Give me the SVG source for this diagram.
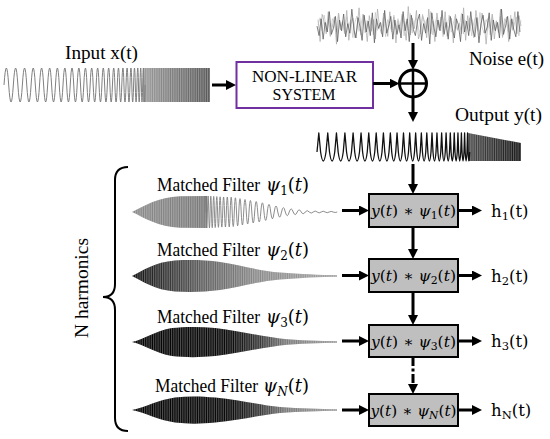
<svg xmlns="http://www.w3.org/2000/svg" width="550" height="439" viewBox="0 0 550 439">
<defs>
<style>
.lbl{font-family:"Liberation Serif","Times New Roman",serif;font-size:18px;fill:#000}
.nl{font-family:"Liberation Serif","Times New Roman",serif;font-size:16px;fill:#000}
.m{font-family:"DejaVu Serif",serif;font-style:normal}
.i{font-family:"DejaVu Serif",serif;font-style:italic}
.ps{font-family:"DejaVu Serif",serif;font-size:18px;fill:#000}
.bt{font-family:"DejaVu Serif",serif;font-size:15px;fill:#000}
.hl{font-family:"DejaVu Serif",serif;font-size:16.5px;fill:#000}
.conn{stroke:#000;stroke-width:3;fill:none;marker-end:url(#ah)}
.box{fill:#bfbfbf;stroke:#000;stroke-width:2}
.wave{fill:none;stroke-linejoin:round}
.tail{stroke:#8a8a8a;stroke-width:0.8}
</style>
<marker id="ah" viewBox="0 0 10 10" refX="3" refY="5" markerWidth="10" markerHeight="10" markerUnits="userSpaceOnUse" orient="auto"><path d="M0,0L10,5L0,10z" fill="#000"/></marker>
<pattern id="st" width="1.8" height="8" patternUnits="userSpaceOnUse"><rect width="0.7" height="8" fill="#fff" fill-opacity="0.4"/></pattern>
<linearGradient id="gIn" x1="0" x2="1"><stop offset="0" stop-color="#9a9a9a"/><stop offset="1" stop-color="#555"/></linearGradient>
<linearGradient id="gOut" x1="0" x2="1"><stop offset="0" stop-color="#4a4a4a"/><stop offset="1" stop-color="#111"/></linearGradient>
<linearGradient id="g1" x1="0" x2="1"><stop offset="0" stop-color="#8a8a8a"/><stop offset="1" stop-color="#767676"/></linearGradient>
<linearGradient id="g2" x1="0" x2="1"><stop offset="0" stop-color="#0d0d0d"/><stop offset="0.2" stop-color="#3a3a3a"/><stop offset="0.35" stop-color="#5e5e5e"/><stop offset="0.6" stop-color="#888"/><stop offset="1" stop-color="#a0a0a0"/></linearGradient>
<linearGradient id="g3" x1="0" x2="1"><stop offset="0" stop-color="#000"/><stop offset="0.48" stop-color="#060606"/><stop offset="0.62" stop-color="#333"/><stop offset="0.75" stop-color="#777"/><stop offset="1" stop-color="#999"/></linearGradient>
<polyline id="nz" fill="none" vector-effect="non-scaling-stroke" points="0,0 1,8 2,-6 3,11 4,-3 5,5 6,-12 7,7 8,2 9,-8 10,13 11,-5 12,4 13,-10 14,9 15,-2 16,6 17,-14 18,3 19,10 20,-7 21,1 22,12 23,-9 24,5 25,-4 26,8 27,-11 28,14 29,-6 30,2 31,-3 32,9 33,-13 34,6 35,0 36,-8 37,11 38,-5 39,7 40,-1 41,10 42,-12 43,4 44,-6 45,13 46,-9 47,3 48,8 49,-4 50,-10 51,12 52,-2 53,6 54,-7 55,15 56,-11 57,1 58,9 59,-5 60,4 61,-13 62,7 63,-3 64,11 65,-8 66,2 67,10 68,-6 69,-1 70,13 71,-10 72,5 73,-4 74,8 75,-12 76,3 77,9 78,-7 79,14 80,-2 81,-9 82,6 83,1 84,-11 85,12 86,-5 87,4 88,-3 89,10 90,-14 91,7 92,0 93,-8 94,11 95,-6 96,3 97,9 98,-12 99,5"/>
</defs>
<rect width="550" height="439" fill="#fff"/>

<g id="input">
<path d="M143,68H210V102H143Z" fill="url(#gIn)"/>
<path d="M143,68H210V102H143Z" fill="url(#st)"/>
<path class="wave" stroke="#808080" stroke-width="1" d="M4,85q2.35,-34 4.7,0t4.63,0t4.55,0t4.48,0t4.4,0t4.33,0t4.25,0t4.18,0t4.1,0t4.03,0t3.95,0t3.88,0t3.8,0t3.73,0t3.65,0t3.58,0t3.5,0t3.43,0t3.35,0t3.28,0t3.2,0t3.13,0t3.05,0t2.98,0t2.9,0t2.83,0t2.75,0t2.68,0t2.6,0t2.53,0t2.45,0t2.38,0t2.3,0t2.23,0t2.15,0t2.08,0t2,0t1.93,0t1.85,0t1.78,0t1.7,0t1.63,0t1.55,0t1.48,0t1.4,0t1.33,0t1.25,0t1.18,0"/>
<text class="lbl" x="65" y="59" textLength="73" lengthAdjust="spacingAndGlyphs">Input x(t)</text>
</g>

<g id="nonlinear-system">
<rect x="236.5" y="62" width="136.5" height="46" fill="#fff" stroke="#7030a0" stroke-width="2"/>
<text class="nl" x="304.5" y="82" text-anchor="middle" textLength="105" lengthAdjust="spacingAndGlyphs">NON-LINEAR</text>
<text class="nl" x="304" y="100" text-anchor="middle" textLength="63" lengthAdjust="spacingAndGlyphs">SYSTEM</text>
</g>

<g id="noise">
<use href="#nz" transform="translate(521,26) scale(-2.05,-1.3)" stroke="#a8a8a8" stroke-width="0.7"/>
<use href="#nz" transform="translate(318,25) scale(2.05,-0.9)" stroke="#bbb" stroke-width="0.6"/>
<use href="#nz" transform="translate(317,26) scale(2.05,1.2)" stroke="#5a5a5a" stroke-width="0.75"/>
<text class="lbl" x="469" y="65" textLength="75" lengthAdjust="spacingAndGlyphs">Noise e(t)</text>
</g>

<g id="sum">
<circle cx="413" cy="83.5" r="13.5" fill="#fff" stroke="#000" stroke-width="3"/>
<path d="M399.5,83.5H426.5M413,70V97" stroke="#000" stroke-width="2.5"/>
</g>

<g id="output">
<path d="M468,133L521,143V161H468Z" fill="url(#gOut)"/>
<path d="M468,133L521,143V161H468Z" fill="url(#st)"/>
<path class="wave" stroke="#111" stroke-width="1.3" d="M317,152l1.8,-19l1.8,19q2.7,18 5.4,0l1.75,-19l1.75,19q2.63,18 5.25,0l1.7,-19l1.7,19q2.55,18 5.1,0l1.65,-19l1.65,19q2.48,18 4.95,0l1.6,-19l1.6,19q2.4,18 4.8,0l1.55,-19l1.55,19q2.33,18 4.65,0l1.5,-19l1.5,19q2.25,18 4.5,0l1.45,-19l1.45,19q2.18,18 4.35,0l1.4,-19l1.4,19q2.1,18 4.2,0l1.35,-19l1.35,19q2.03,18 4.05,0l1.3,-19l1.3,19q1.95,18 3.9,0l1.25,-19l1.25,19q1.88,18 3.75,0l1.2,-19l1.2,19q1.8,18 3.6,0l1.15,-19l1.15,19q1.73,18 3.45,0l1.1,-19l1.1,19q1.65,18 3.3,0l1.05,-19l1.05,19q1.58,18 3.15,0l1,-19l1,19q1.5,18 3,0l.95,-19l.95,19q1.43,18 2.85,0l.9,-19l.9,19q1.35,18 2.7,0l.85,-19l.85,19q1.28,18 2.55,0l.8,-19l.8,19q1.2,18 2.4,0l.75,-19l.75,19q1.13,18 2.25,0l.7,-19l.7,19q1.05,18 2.1,0l.65,-19l.65,19q.98,18 1.95,0l.6,-19l.6,19q.9,18 1.8,0l.55,-19l.55,19q.83,18 1.65,0"/>
<text class="lbl" x="455" y="121" textLength="87" lengthAdjust="spacingAndGlyphs">Output y(t)</text>
</g>

<g id="brace">
<path d="M128,167Q115,167 115,180L115,284Q115,297 103,297Q115,297 115,310L115,418Q115,431 128,431" fill="none" stroke="#000" stroke-width="2"/>
<text class="lbl" transform="translate(88,288) rotate(-90)" text-anchor="middle" textLength="100" lengthAdjust="spacingAndGlyphs">N harmonics</text>
</g>

<g id="filter1">
<path d="M132,212C145,206 158,197 180,196.3L207,196V228L180,227.7C158,227 145,218 132,212Z" fill="url(#g1)"/>
<path d="M132,212C145,206 158,197 180,196.3L207,196V228L180,227.7C158,227 145,218 132,212Z" fill="url(#st)"/>
<path class="wave" stroke="#808080" stroke-width="0.9" d="M205,212q.6,-32 1.2,0q.63,32 1.25,0q.65,-32 1.3,0q.68,31.8 1.35,0q.7,-31.6 1.4,0q.73,31.4 1.45,0q.75,-31.2 1.5,0q.78,31 1.55,0q.8,-30.8 1.6,0q.83,30.6 1.65,0q.85,-30.4 1.7,0q.88,30.2 1.75,0q.9,-30 1.8,0q.93,30 1.85,0q.95,-30 1.9,0q.98,29.8 1.95,0q1,-29.6 2,0q1.05,29 2.1,0q1.1,-28.4 2.2,0q1.15,27.6 2.3,0q1.2,-26.8 2.4,0q1.25,26 2.5,0q1.3,-25 2.6,0q1.35,24 2.7,0q1.4,-23 2.8,0q1.45,22 2.9,0q1.5,-21 3,0q1.55,20 3.1,0q1.6,-18.4 3.2,0q1.65,16.8 3.3,0q1.7,-15.2 3.4,0q1.75,13.6 3.5,0q1.8,-12 3.6,0q1.85,10.4 3.7,0q1.9,-8.8 3.8,0q1.95,7.4 3.9,0q2,-6.2 4,0q2,5.2 4,0q2,-4.2 4,0q2,3.4 4,0q2,-2.8 4,0q2,2.2 4,0q2,-2 4,0q2,1.8 4,0q2,-1.6 4,0q2,1.4 4,0q2,-1.2 4,0q2,1 4,0"/>
<text class="lbl" x="157" y="191" textLength="103" lengthAdjust="spacingAndGlyphs">Matched Filter</text>
<text class="ps" x="266" y="191"><tspan class="i">ψ</tspan><tspan font-size="12" dy="4">1</tspan><tspan dy="-4">(</tspan><tspan class="i">t</tspan>)</text>
</g>

<g id="filter2">
<line class="tail" x1="260" y1="276" x2="337" y2="276"/>
<path d="M132,276C142,271 155,262 175,260.5C190,259.5 205,260 220,262C240,265 260,271 280,272.5C300,274 320,275 337,275.2V276.8C320,277 300,278 280,279.5C260,281 240,287 220,290C205,292 190,292.5 175,291.5C155,290 142,281 132,276Z" fill="url(#g2)"/>
<path d="M132,276C142,271 155,262 175,260.5C190,259.5 205,260 220,262C240,265 260,271 280,272.5C300,274 320,275 337,275.2V276.8C320,277 300,278 280,279.5C260,281 240,287 220,290C205,292 190,292.5 175,291.5C155,290 142,281 132,276Z" fill="url(#st)"/>
<text class="lbl" x="157" y="256" textLength="103" lengthAdjust="spacingAndGlyphs">Matched Filter</text>
<text class="ps" x="266" y="256"><tspan class="i">ψ</tspan><tspan font-size="12" dy="4">2</tspan><tspan dy="-4">(</tspan><tspan class="i">t</tspan>)</text>
</g>

<g id="filter3">
<line class="tail" x1="260" y1="342" x2="337" y2="342"/>
<path d="M132,342C145,339 155,331 172,328C185,326.5 200,326.5 215,328C240,331 260,336 280,338.5C300,340.5 320,341 337,341.2V342.8C320,343 300,343.5 280,345.5C260,348 240,353 215,356C200,357.5 185,357.5 172,356C155,353 145,345 132,342Z" fill="url(#g3)"/>
<path d="M132,342C145,339 155,331 172,328C185,326.5 200,326.5 215,328C240,331 260,336 280,338.5C300,340.5 320,341 337,341.2V342.8C320,343 300,343.5 280,345.5C260,348 240,353 215,356C200,357.5 185,357.5 172,356C155,353 145,345 132,342Z" fill="url(#st)"/>
<text class="lbl" x="157" y="323" textLength="103" lengthAdjust="spacingAndGlyphs">Matched Filter</text>
<text class="ps" x="266" y="323"><tspan class="i">ψ</tspan><tspan font-size="12" dy="4">3</tspan><tspan dy="-4">(</tspan><tspan class="i">t</tspan>)</text>
</g>

<g id="filterN">
<line class="tail" x1="260" y1="410" x2="337" y2="410"/>
<path d="M132,410C146,407 158,400 175,397.5C188,396 200,396 215,397.5C240,400 260,405 280,407C300,408.5 320,409 337,409.3V410.7C320,411 300,411.5 280,413C260,415 240,420 215,422.5C200,424 188,424 175,422.5C158,420 146,413 132,410Z" fill="url(#g3)"/>
<path d="M132,410C146,407 158,400 175,397.5C188,396 200,396 215,397.5C240,400 260,405 280,407C300,408.5 320,409 337,409.3V410.7C320,411 300,411.5 280,413C260,415 240,420 215,422.5C200,424 188,424 175,422.5C158,420 146,413 132,410Z" fill="url(#st)"/>
<text class="lbl" x="155" y="392" textLength="103" lengthAdjust="spacingAndGlyphs">Matched Filter</text>
<text class="ps" x="263" y="392"><tspan class="i">ψ</tspan><tspan class="i" font-size="12" dy="4">N</tspan><tspan dy="-4">(</tspan><tspan class="i">t</tspan>)</text>
</g>

<g id="conv1">
<rect class="box" x="369" y="194" width="89" height="33"/>
<text class="bt" x="413.5" y="216" text-anchor="middle" textLength="85" lengthAdjust="spacingAndGlyphs"><tspan class="i">y</tspan>(<tspan class="i">t</tspan>) ∗ <tspan class="i">ψ</tspan><tspan font-size="10.5" dy="3">1</tspan><tspan dy="-3">(</tspan><tspan class="i">t</tspan>)</text>
</g>
<g id="conv2">
<rect class="box" x="369" y="259" width="89" height="33"/>
<text class="bt" x="413.5" y="281" text-anchor="middle" textLength="85" lengthAdjust="spacingAndGlyphs"><tspan class="i">y</tspan>(<tspan class="i">t</tspan>) ∗ <tspan class="i">ψ</tspan><tspan font-size="10.5" dy="3">2</tspan><tspan dy="-3">(</tspan><tspan class="i">t</tspan>)</text>
</g>
<g id="conv3">
<rect class="box" x="369" y="325" width="89" height="32"/>
<text class="bt" x="413.5" y="346.5" text-anchor="middle" textLength="85" lengthAdjust="spacingAndGlyphs"><tspan class="i">y</tspan>(<tspan class="i">t</tspan>) ∗ <tspan class="i">ψ</tspan><tspan font-size="10.5" dy="3">3</tspan><tspan dy="-3">(</tspan><tspan class="i">t</tspan>)</text>
</g>
<g id="convN">
<rect class="box" x="369" y="394" width="89" height="32"/>
<text class="bt" x="413.5" y="415.5" text-anchor="middle" textLength="86" lengthAdjust="spacingAndGlyphs"><tspan class="i">y</tspan>(<tspan class="i">t</tspan>) ∗ <tspan class="i">ψ</tspan><tspan class="i" font-size="10.5" dy="3">N</tspan><tspan dy="-3">(</tspan><tspan class="i">t</tspan>)</text>
</g>

<g id="h1"><text class="hl" x="491" y="217">h<tspan font-size="11.5" dy="3">1</tspan><tspan dy="-3">(t)</tspan></text></g>
<g id="h2"><text class="hl" x="491" y="282">h<tspan font-size="11.5" dy="3">2</tspan><tspan dy="-3">(t)</tspan></text></g>
<g id="h3"><text class="hl" x="491" y="347">h<tspan font-size="11.5" dy="3">3</tspan><tspan dy="-3">(t)</tspan></text></g>
<g id="hN"><text class="hl" x="491" y="416">h<tspan font-size="11.5" dy="3">N</tspan><tspan dy="-3">(t)</tspan></text></g>

<g id="connectors">
<line class="conn" x1="212" y1="85" x2="229" y2="85"/>
<line class="conn" x1="373" y1="83.5" x2="392.5" y2="83.5"/>
<line class="conn" x1="413" y1="43" x2="413" y2="63"/>
<line class="conn" x1="413" y1="97" x2="413" y2="115"/>
<line class="conn" x1="413" y1="164" x2="413" y2="187"/>
<line class="conn" x1="413" y1="227" x2="413" y2="252"/>
<line class="conn" x1="413" y1="292" x2="413" y2="318"/>
<line class="conn" x1="413" y1="357" x2="413" y2="387" stroke-dasharray="9 2.5 3 2.5"/>
<line class="conn" x1="342" y1="210.5" x2="362" y2="210.5"/>
<line class="conn" x1="342" y1="275.5" x2="362" y2="275.5"/>
<line class="conn" x1="342" y1="341" x2="362" y2="341"/>
<line class="conn" x1="342" y1="410" x2="362" y2="410"/>
<line class="conn" x1="458" y1="210.5" x2="475" y2="210.5"/>
<line class="conn" x1="458" y1="275.5" x2="475" y2="275.5"/>
<line class="conn" x1="458" y1="341" x2="475" y2="341"/>
<line class="conn" x1="458" y1="410" x2="475" y2="410"/>
</g>
</svg>
